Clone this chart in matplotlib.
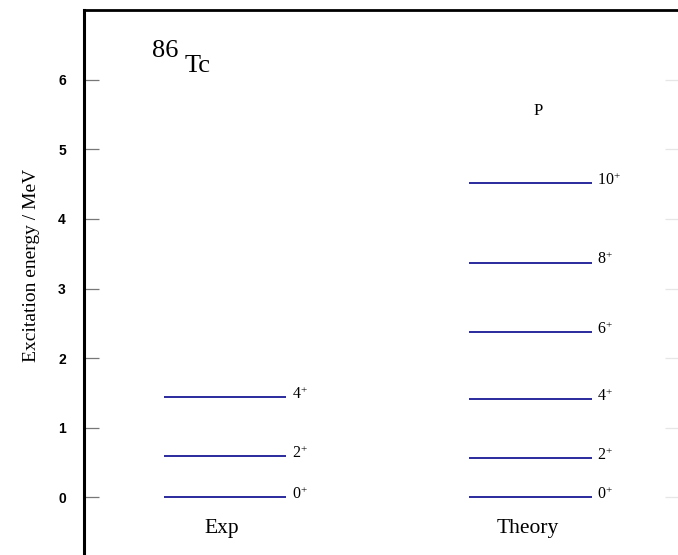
import matplotlib
matplotlib.use("Agg")
import matplotlib.pyplot as plt

# Level scheme data (excitation energies in MeV)
columns = ["Exp", "Theory"]
exp_spins = ["0", "2", "4"]
exp_energies = [0.0, 0.59, 1.44]
theory_spins = ["0", "2", "4", "6", "8", "10"]
theory_energies = [0.0, 0.56, 1.41, 2.37, 3.37, 4.51]
y_ticks = [0, 1, 2, 3, 4, 5, 6]

plt.rcParams["mathtext.fontset"] = "custom"
plt.rcParams["mathtext.rm"] = "Liberation Serif"
plt.rcParams["mathtext.it"] = "Liberation Serif:italic"

W, H, DPI = 678, 555, 100
fig = plt.figure(figsize=(W / DPI, H / DPI), dpi=DPI)
ax = fig.add_axes([84 / W, -12 / H, (680 - 84) / W, (567 - 10) / H])

ax.set_xlim(-0.4615, 1.489)
ax.set_ylim(-1, 7)

level_color = "#2a2a9e"
half_width = 0.2
serif = "Liberation Serif"

for xi, (spins, energies) in enumerate([(exp_spins, exp_energies),
                                        (theory_spins, theory_energies)]):
    for spin, e in zip(spins, energies):
        ax.hlines(e, xi - half_width, xi + half_width, color=level_color, lw=1.4)
        ax.annotate(r"$\mathrm{%s}^{+}$" % spin, xy=(xi + half_width, e),
                    xytext=(4, -1), textcoords="offset points",
                    ha="left", va="baseline", fontsize=11.5, color="black")
    ax.text(xi - 0.01, -0.44, columns[xi], ha="center", va="center",
            fontsize=15.5, family=serif)

ax.text(1.025, 5.55, "P", ha="center", va="center", fontsize=12, family=serif)

fig.text(152 / W, 1 - 57 / H, "86", ha="left", va="baseline",
         fontsize=19, family=serif)
fig.text(185 / W, 1 - 72 / H, "Tc", ha="left", va="baseline",
         fontsize=19, family=serif)

ax.set_yticks(y_ticks)
ax.set_xticks([])
ax.tick_params(axis="y", direction="in", length=11, width=0.9,
               color="#777777", pad=13, right=False)
for lab in ax.get_yticklabels():
    lab.set_fontfamily("Liberation Sans")
    lab.set_fontweight("bold")
    lab.set_fontsize(10)

# faint mirrored ticks on the right-hand side
ax_r = ax.twinx()
ax_r.set_ylim(ax.get_ylim())
ax_r.set_yticks(y_ticks)
ax_r.tick_params(axis="y", direction="in", length=11, width=0.9,
                 color="#e6e6e6", labelright=False)
for s in ax_r.spines.values():
    s.set_visible(False)

ax.set_ylabel("Excitation energy / MeV", family=serif, fontsize=14)
ax.yaxis.label.set_verticalalignment("center")
ax.yaxis.set_label_coords((32 - 84) / (680 - 84), (567 - 265) / (567 - 10))

ax.spines["left"].set_linewidth(2.2)
ax.spines["top"].set_linewidth(2.0)
ax.spines["right"].set_linewidth(1.0)
ax.spines["bottom"].set_visible(False)

fig.savefig("out.png", dpi=DPI)
